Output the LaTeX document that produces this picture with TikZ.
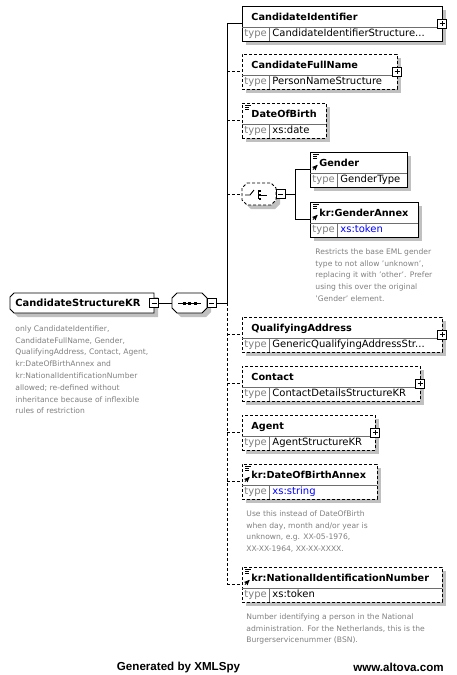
\documentclass[tikz,border=0pt]{standalone}
\usepackage{fontspec}
\setmainfont{DejaVu Sans}
\newfontfamily\footfont{Liberation Sans}
\usetikzlibrary{arrows,shadows}

\definecolor{annogray}{RGB}{128,128,128}
\definecolor{rulegray}{RGB}{110,110,110}
\definecolor{shade}{RGB}{192,192,192}
\definecolor{xsblue}{RGB}{0,0,255}

\tikzset{
  shadowed/.style={drop shadow={shadow xshift=4pt, shadow yshift=-4pt, fill=shade, opacity=1}},
  elem/.style={draw, fill=white, minimum height=35pt, inner sep=0pt, outer sep=0pt, shadowed},
  opt/.style={dash pattern=on 3pt off 2pt},
  lbl/.style={font=\fontsize{9.7}{11}\selectfont\bfseries, inner sep=0pt},
  typelbl/.style={font=\fontsize{10}{11}\selectfont, text=annogray, inner sep=0pt},
  typeval/.style={font=\fontsize{10}{11}\selectfont, inner sep=0pt},
  anno/.style={font=\fontsize{7.6}{11.8}\selectfont, text=annogray, align=left,
    inner sep=0pt, anchor=north west},
  plusbox/.style={draw, fill=white, solid, minimum size=9pt, inner sep=0pt,
    path picture={\draw ([xshift=2pt]path picture bounding box.west) -- ([xshift=-2pt]path picture bounding box.east)
      ([yshift=2pt]path picture bounding box.south) -- ([yshift=-2pt]path picture bounding box.north);}},
  minusbox/.style={draw, fill=white, solid, minimum size=9pt, inner sep=0pt,
    path picture={\draw ([xshift=2pt]path picture bounding box.west) -- ([xshift=-2pt]path picture bounding box.east);}},
  frame/.style={inner sep=0pt, outer sep=0pt},
  listicon/.pic={\draw[line width=0.8pt, solid] (3,2.5) -- (9,2.5) (3,4.5) -- (7,4.5) (3,6.5) -- (7,6.5);},
  refarrow/.pic={\draw[->, >=stealth', line width=0.9pt, solid] (3,17.5) -- (7.5,13);}
}

% element box: name, style, x, top, width, label, type
\newcommand{\elembox}[7]{%
  \node[elem, #2, minimum width=#5pt, anchor=north west] (#1) at (#3,#4) {};
  \draw[rulegray] ([yshift=-21pt]#1.north west) -- ([yshift=-21pt]#1.north east);
  \draw[rulegray] ([xshift=27pt,yshift=-21pt]#1.north west) -- ([xshift=27pt]#1.south west);
  \node[lbl, anchor=base west] (#1-n) at ([xshift=9pt,yshift=-14.5pt]#1.north west) {#6};
  \node[typelbl, anchor=base west] (#1-t) at ([xshift=2pt,yshift=-30.5pt]#1.north west) {type};
  \node[typeval, anchor=base west] (#1-v) at ([xshift=30pt,yshift=-30.5pt]#1.north west) {#7};
}

% octagon outline round a frame node: node, style
\newcommand{\octo}[2]{%
  \draw[fill=white, shadowed, #2] ([xshift=5pt]#1.north west) -- ([xshift=-5pt]#1.north east)
    -- ([yshift=-5pt]#1.north east) -- ([yshift=5pt]#1.south east)
    -- ([xshift=-5pt]#1.south east) -- ([xshift=5pt]#1.south west)
    -- ([yshift=5pt]#1.south west) -- ([yshift=-5pt]#1.north west) -- cycle;
}

\begin{document}
\begin{tikzpicture}[x=1pt, y=-1pt, line width=0.9pt]
  \fill[white] (0,0) rectangle (457,675);
  \useasboundingbox (0,0) rectangle (457,675);

  % root type and sequence
  \node[frame, minimum width=144pt, minimum height=20pt] (root) at (82,303) {};
  \draw[fill=white, shadowed] ([xshift=4pt]root.north west) -- (root.north east) -- (root.south east)
    -- ([xshift=4pt]root.south west) -- ([yshift=4pt]root.south west) -- ([yshift=-4pt]root.north west) -- cycle;
  \node[lbl, font=\fontsize{9.9}{11}\selectfont\bfseries, anchor=west] (root-n) at ([xshift=5pt]root.west) {CandidateStructureKR};
  \node[minusbox] (rootm) at (root.east) {};
  \node[frame, minimum width=35pt, minimum height=20pt] (seq) at (189.5,303) {};
  \octo{seq}{}
  \node[minusbox, anchor=west] (seqm) at (seq.east) {};
  \draw (178,303) -- (201,303);
  \foreach \d in {184,189.5,195}
    \fill (\d-1.5,301.5) rectangle +(3,3);
  \node[anno] (root-a) at (15,325) {only CandidateIdentifier,\\CandidateFullName, Gender,\\QualifyingAddress, Contact, Agent,\\kr:DateOfBirthAnnex and\\kr:NationalIdentificationNumber\\allowed; re-defined without\\inheritance because of inflexible\\rules of restriction};

  % children
  \elembox{cid}{}{242}{6}{200}{CandidateIdentifier}{CandidateIdentifierStructure...}
  \elembox{cfn}{opt}{242}{54}{155}{CandidateFullName}{PersonNameStructure}
  \elembox{dob}{opt}{242}{103}{84}{DateOfBirth}{xs:date}
  \elembox{gen}{}{310}{152}{97}{Gender}{GenderType}
  \elembox{gan}{}{310}{202}{108}{kr:GenderAnnex}{\textcolor{xsblue}{xs:token}}
  \elembox{qad}{opt}{242}{317}{200}{QualifyingAddress}{GenericQualifyingAddressStr...}
  \elembox{con}{opt}{242}{366}{178}{Contact}{ContactDetailsStructureKR}
  \elembox{agt}{opt}{242}{415}{133}{Agent}{AgentStructureKR}
  \elembox{dba}{opt}{242}{464}{135}{kr:DateOfBirthAnnex}{\textcolor{xsblue}{xs:string}}
  \elembox{nin}{opt}{242}{567}{200}{kr:NationalIdentificationNumber}{xs:token}

  \foreach \e in {cid,cfn,qad,con,agt}
    \node[plusbox] at (\e.east) {};
  \pic at (dob.north west) {listicon};
  \foreach \e in {gen,gan,dba,nin} {
    \pic at (\e.north west) {listicon};
    \pic at (\e.north west) {refarrow};
  }

  % choice
  \node[frame, minimum width=34pt, minimum height=22pt] (chc) at (259,194) {};
  \octo{chc}{opt}
  \node[minusbox, anchor=west] (chcm) at (chc.east) {};
  \draw (245,195) -- (250,195) -- (254,190);
  \draw (258,190) -- (258,199) (261,195) -- (267,195);
  \foreach \d in {191,195,199}
    \fill (259,\d-1.2) rectangle +(2.4,2.4);

  % annotations
  \node[anno] (gan-a) at ([xshift=5pt,yshift=-11pt]gan.south west) {Restricts the base EML gender\\type to not allow 'unknown',\\replacing it with 'other'. Prefer\\using this over the original\\'Gender' element.};
  \node[anno] (dba-a) at ([xshift=4pt,yshift=-11pt]dba.south west) {Use this instead of DateOfBirth\\when day, month and/or year is\\unknown, e.g. XX-05-1976,\\XX-XX-1964, XX-XX-XXXX.};
  \node[anno] (nin-a) at ([xshift=4pt,yshift=-11pt]nin.south west) {Number identifying a person in the National\\administration. For the Netherlands, this is the\\Burgerservicenummer (BSN).};

  % connectors
  \coordinate (spine) at (227,303);
  \coordinate (fork) at (295,194);
  \draw (rootm.east) -- (seq.west);
  \draw (seqm.east) -- (spine) |- (cid.west);
  \draw[opt] (spine) -- (spine |- nin.west);
  \foreach \e in {cfn,dob,chc,qad,con,agt,dba,nin}
    \draw[opt] (spine |- \e.west) -- (\e.west);
  \draw (chcm.east) -- (fork);
  \draw (fork) |- (gen.west);
  \draw (fork) |- (gan.west);

  % footer
  \node[font=\footfont\fontsize{11.6}{13}\selectfont\bfseries] (gen-by) at (178.5,667) {Generated by XMLSpy};
  \node[font=\footfont\fontsize{11.6}{13}\selectfont\bfseries] (site) at (398.5,667) {www.altova.com};
\end{tikzpicture}
\end{document}
